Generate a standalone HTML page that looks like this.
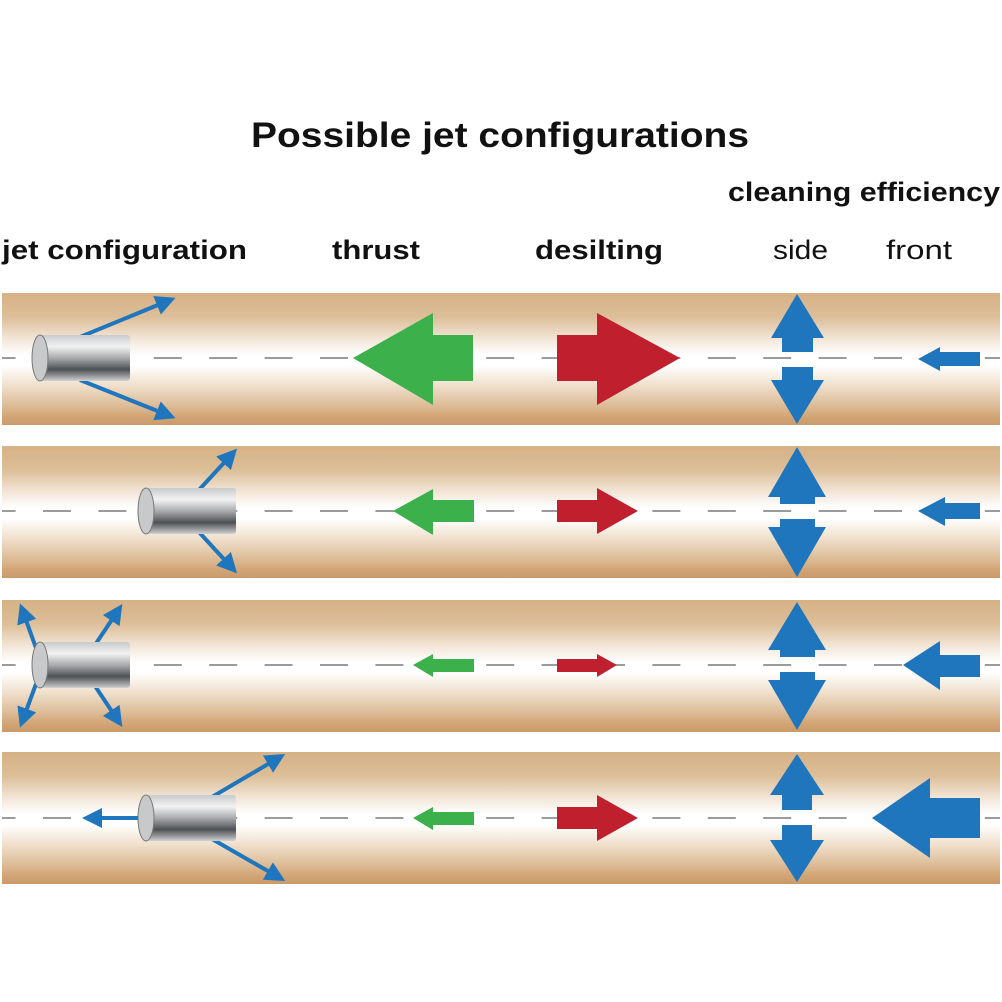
<!DOCTYPE html>
<html><head><meta charset="utf-8"><style>
html,body{margin:0;padding:0;background:#fff;}
svg{display:block;}
text{font-family:"Liberation Sans",sans-serif;fill:#111;}
</style></head><body>
<svg width="1002" height="1002" viewBox="0 0 1002 1002" xmlns="http://www.w3.org/2000/svg">
<defs>
<linearGradient id="pipe" x1="0" y1="0" x2="0" y2="1">
<stop offset="0" stop-color="#d6b185"/>
<stop offset="0.18" stop-color="#dcbe98"/>
<stop offset="0.35" stop-color="#f3e6d8"/>
<stop offset="0.47" stop-color="#ffffff"/>
<stop offset="0.55" stop-color="#ffffff"/>
<stop offset="0.7" stop-color="#f0e0cc"/>
<stop offset="0.85" stop-color="#ddbd98"/>
<stop offset="0.93" stop-color="#d3a677"/>
<stop offset="1" stop-color="#c99a6a"/>
</linearGradient>
<linearGradient id="cyl" x1="0" y1="0" x2="0" y2="1">
<stop offset="0" stop-color="#c9cacc"/>
<stop offset="0.25" stop-color="#f2f2f2"/>
<stop offset="0.5" stop-color="#a9abad"/>
<stop offset="0.75" stop-color="#4e5154"/>
<stop offset="0.9" stop-color="#9a9c9e"/>
<stop offset="1" stop-color="#d0d1d2"/>
</linearGradient>
<g id="dash">
<line x1="2" y1="0" x2="1000" y2="0" stroke="#7a7a7a" stroke-width="1.5" stroke-dasharray="28 27.4" stroke-dashoffset="14.4"/>
</g>
<g id="cylinder">
<rect x="8" y="0" width="90" height="46" rx="3" fill="url(#cyl)"/>
<ellipse cx="8" cy="23" rx="8" ry="23" fill="#c8c9ca" stroke="#777" stroke-width="1"/>
</g>
<marker id="ah" markerWidth="5" markerHeight="5" refX="3.5" refY="2.5" orient="auto" markerUnits="strokeWidth">
<path d="M0,0 L5,2.5 L0,5 Z" fill="#1f76bd"/>
</marker>
</defs>

<text x="500" y="147" font-size="35" font-weight="bold" text-anchor="middle" textLength="498" lengthAdjust="spacingAndGlyphs">Possible jet configurations</text>
<text x="728" y="201" font-size="27" font-weight="bold" textLength="272" lengthAdjust="spacingAndGlyphs">cleaning efficiency</text>
<text x="2" y="259" font-size="27" font-weight="bold" textLength="245" lengthAdjust="spacingAndGlyphs">jet configuration</text>
<text x="332" y="259" font-size="27" font-weight="bold" textLength="88" lengthAdjust="spacingAndGlyphs">thrust</text>
<text x="535" y="259" font-size="27" font-weight="bold" textLength="128" lengthAdjust="spacingAndGlyphs">desilting</text>
<text x="773" y="259" font-size="27" textLength="55" lengthAdjust="spacingAndGlyphs">side</text>
<text x="886" y="259" font-size="27" textLength="66" lengthAdjust="spacingAndGlyphs">front</text>

<rect x="2" y="293" width="998" height="132" fill="url(#pipe)"/>
<rect x="2" y="446" width="998" height="132" fill="url(#pipe)"/>
<rect x="2" y="600" width="998" height="132" fill="url(#pipe)"/>
<rect x="2" y="752" width="998" height="132" fill="url(#pipe)"/>
<use href="#dash" y="358"/>
<use href="#dash" y="511"/>
<use href="#dash" y="665"/>
<use href="#dash" y="818"/>

<!-- row1 -->
<g stroke="#1f76bd" stroke-width="4" fill="none" marker-end="url(#ah)">
<line x1="80" y1="337" x2="170" y2="300"/>
<line x1="80" y1="380" x2="170" y2="416"/>
</g>
<use href="#cylinder" x="32" y="335"/>
<path d="M353,358 L433,313 L433,335 L473,335 L473,381 L433,381 L433,405 Z" fill="#3cb04a"/>
<path d="M680,358 L597,313 L597,335 L557,335 L557,381 L597,381 L597,405 Z" fill="#c0202e"/>
<path d="M797,294 L824,338 L813,338 L813,352 L782,352 L782,338 L771,338 Z" fill="#1f76bd"/>
<path d="M797,424 L824,380 L813,380 L813,367 L782,367 L782,380 L771,380 Z" fill="#1f76bd"/>
<path d="M918,359 L940,347 L940,352 L980,352 L980,366 L940,366 L940,371 Z" fill="#1f76bd"/>

<!-- row2 -->
<g stroke="#1f76bd" stroke-width="4" fill="none" marker-end="url(#ah)">
<line x1="198" y1="491" x2="233" y2="453"/>
<line x1="198" y1="531" x2="233" y2="569"/>
</g>
<use href="#cylinder" x="138" y="488"/>
<path d="M393,511 L433,489 L433,500 L474,500 L474,522 L433,522 L433,535 Z" fill="#3cb04a"/>
<path d="M638,511 L597,488 L597,500 L557,500 L557,522 L597,522 L597,534 Z" fill="#c0202e"/>
<path d="M797,447 L826,497 L815,497 L815,504 L780,504 L780,497 L768,497 Z" fill="#1f76bd"/>
<path d="M797,577 L826,527 L815,527 L815,519 L780,519 L780,527 L768,527 Z" fill="#1f76bd"/>
<path d="M918,511 L945,497 L945,503 L980,503 L980,519 L945,519 L945,526 Z" fill="#1f76bd"/>

<!-- row3 -->
<g stroke="#1f76bd" stroke-width="4" fill="none" marker-end="url(#ah)">
<line x1="36" y1="648" x2="22" y2="609"/>
<line x1="36" y1="684" x2="22" y2="722"/>
<line x1="95" y1="645" x2="119" y2="609"/>
<line x1="95" y1="686" x2="119" y2="722"/>
</g>
<use href="#cylinder" x="32" y="642"/>
<path d="M413,665 L433,654 L433,659 L474,659 L474,672 L433,672 L433,677 Z" fill="#3cb04a"/>
<path d="M617,665 L597,654 L597,659 L557,659 L557,672 L597,672 L597,677 Z" fill="#c0202e"/>
<path d="M797,602 L826,650 L815,650 L815,657 L780,657 L780,650 L768,650 Z" fill="#1f76bd"/>
<path d="M797,730 L826,680 L815,680 L815,672 L780,672 L780,680 L768,680 Z" fill="#1f76bd"/>
<path d="M903,665 L940,641 L940,655 L980,655 L980,677 L940,677 L940,690 Z" fill="#1f76bd"/>

<!-- row4 -->
<g stroke="#1f76bd" stroke-width="4" fill="none" marker-end="url(#ah)">
<line x1="212" y1="797" x2="280" y2="757"/>
<line x1="212" y1="839" x2="280" y2="878"/>
<line x1="140" y1="818" x2="88" y2="818"/>
</g>
<use href="#cylinder" x="138" y="795"/>
<path d="M413,818 L433,807 L433,812 L474,812 L474,825 L433,825 L433,830 Z" fill="#3cb04a"/>
<path d="M638,818 L597,795 L597,807 L557,807 L557,829 L597,829 L597,841 Z" fill="#c0202e"/>
<path d="M797,754 L824,795 L812,795 L812,810 L782,810 L782,795 L770,795 Z" fill="#1f76bd"/>
<path d="M797,882 L824,840 L812,840 L812,825 L782,825 L782,840 L770,840 Z" fill="#1f76bd"/>
<path d="M872,818 L930,778 L930,798 L980,798 L980,838 L930,838 L930,858 Z" fill="#1f76bd"/>
</svg>
</body></html>
